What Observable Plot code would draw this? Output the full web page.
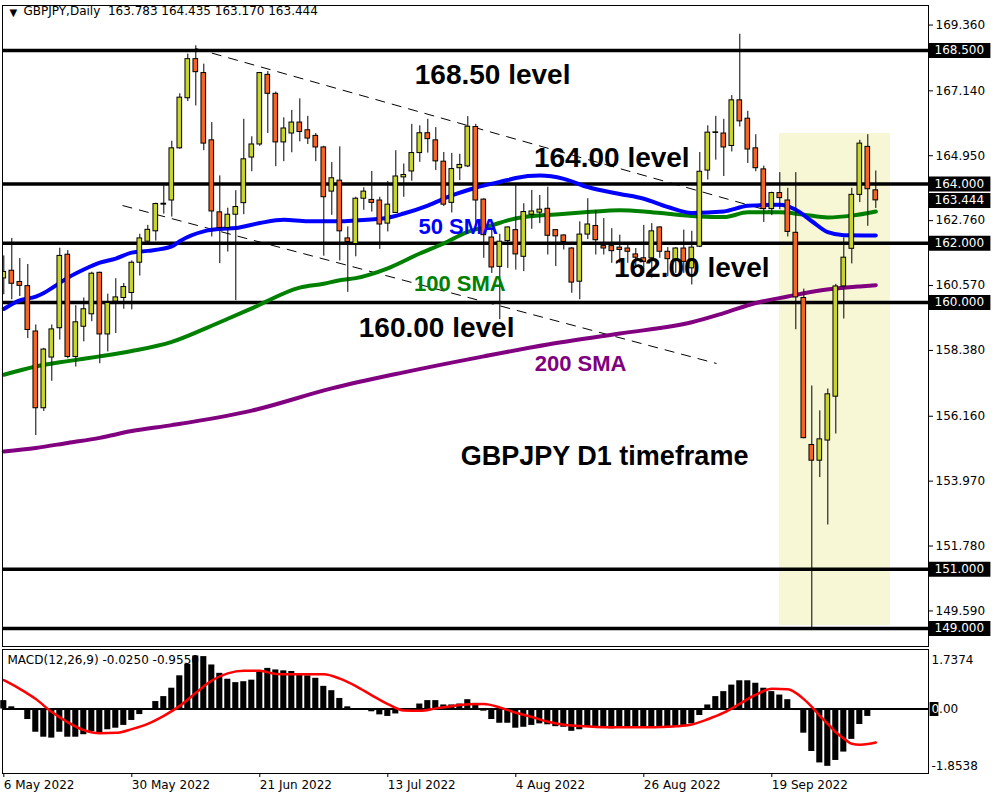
<!DOCTYPE html>
<html><head><meta charset="utf-8">
<script src="https://cdn.jsdelivr.net/npm/d3@7"></script>
<script src="https://cdn.jsdelivr.net/npm/@observablehq/plot@0.6"></script>
<style>
html,body{margin:0;padding:0;background:#fff;}
#wrap{position:relative;width:1000px;height:800px;overflow:hidden;}
#main{position:absolute;left:0;top:0;}
#macd{position:absolute;left:0;top:647px;}
</style></head><body>
<div id="wrap"><div id="main"></div><div id="macd"></div></div>
<script>
// ---- Daily candles, bar 0 = 6 May 2022 ... bar 109 = 6 Oct 2022 ----
const opens = [160.81,161.07,160.69,160.55,159.02,156.43,158.14,159.13,161.61,158.16,
159.18,159.60,161.00,158.92,160.03,160.15,160.32,161.34,162.05,162.40,
163.30,163.44,165.20,166.89,168.21,167.74,165.47,163.04,162.51,162.96,
163.35,164.89,165.33,167.68,167.04,165.40,165.70,166.07,165.81,165.62,
165.23,163.74,164.11,162.16,161.97,163.50,163.46,163.44,162.66,163.02,
164.22,164.42,165.04,165.71,165.47,164.75,163.36,164.53,164.59,165.92,
163.47,162.19,161.20,162.07,162.44,161.54,162.96,163.03,163.16,162.44,
162.26,161.82,160.70,162.29,162.58,161.90,161.90,161.85,161.82,161.62,
161.49,161.49,162.53,161.71,161.43,161.82,161.15,161.88,164.45,165.72,
165.70,165.28,166.82,166.20,165.20,164.49,163.15,163.69,163.44,162.35,
160.15,155.19,154.66,155.34,156.82,160.54,161.81,163.63,165.25,163.783];
const highs = [161.57,162.16,161.48,161.28,159.24,158.45,159.24,161.83,161.75,159.89,
160.15,161.02,161.02,160.28,160.80,160.64,161.40,162.30,162.60,163.35,
163.94,165.44,167.04,168.38,168.66,168.04,166.07,164.27,163.18,163.77,
166.18,165.59,167.76,167.79,167.10,166.23,166.48,166.87,166.28,165.70,
165.27,164.72,165.25,162.55,163.55,163.87,164.42,163.55,164.08,165.12,
164.67,166.01,165.96,166.18,165.90,165.06,165.03,165.00,166.27,166.01,
163.50,162.44,162.30,162.55,164.00,163.33,163.78,163.61,163.89,162.46,
162.28,161.85,162.72,163.50,163.11,162.83,162.49,162.27,161.97,161.82,
162.60,162.66,162.55,161.85,161.85,162.44,162.40,165.06,165.96,166.28,
166.18,166.98,169.05,166.45,165.66,164.60,163.72,164.38,163.85,164.38,
160.45,157.18,156.34,157.08,160.61,162.18,163.85,165.47,165.66,164.435];
const lows = [160.26,160.09,160.20,158.78,155.51,156.32,157.34,158.73,158.10,157.82,
158.67,159.35,157.93,158.33,158.95,159.77,159.75,160.89,161.95,162.07,
162.98,162.88,165.17,166.78,166.63,165.12,162.21,161.31,161.70,160.06,
162.96,164.41,165.27,165.70,164.58,164.75,165.05,165.42,165.33,164.75,
161.56,162.94,161.40,160.34,161.54,163.11,163.05,161.79,162.38,163.00,
163.55,164.09,164.73,165.04,164.45,163.24,163.02,164.11,164.55,162.44,
161.49,160.98,159.42,161.15,161.09,161.04,162.47,162.66,161.60,161.21,
161.77,160.31,160.09,162.12,161.60,161.60,161.32,161.32,161.32,161.15,
160.98,160.82,161.49,160.87,160.98,160.98,160.59,161.85,164.13,164.80,
164.25,165.08,165.92,164.69,164.41,162.70,162.93,163.13,162.21,159.08,
155.40,149.02,154.09,152.49,155.56,159.44,161.30,163.37,162.57,163.170];
const closes = [161.03,160.63,160.56,159.07,156.43,158.41,159.09,161.57,158.16,159.33,
159.77,160.97,158.92,159.98,160.17,160.52,161.34,162.16,162.45,163.32,
163.33,165.20,166.91,168.21,167.77,165.36,163.07,162.51,162.96,163.22,
164.83,165.33,167.74,167.04,165.40,165.87,166.07,165.75,165.53,165.23,
163.55,164.19,162.40,162.04,163.50,163.74,163.36,162.63,163.30,164.25,
164.30,165.04,165.71,165.51,164.76,163.30,164.50,164.64,165.93,163.44,
162.27,161.18,162.05,162.53,161.62,163.05,163.07,163.13,162.25,162.23,
162.04,160.67,162.29,162.63,162.10,161.82,161.73,161.77,161.71,161.51,
161.37,162.40,161.71,161.46,161.82,161.37,161.85,164.41,165.73,165.74,
165.23,166.82,166.11,165.16,164.53,163.15,163.69,163.52,162.38,160.17,
155.42,154.66,155.38,156.90,160.54,161.51,163.63,165.36,163.82,163.444];

// ---- Moving averages (bar index, price) ----
const sma50Bar = [0,2,4,5,7,8,10,12,14,16,18,21,22,25,27,29,32,35,38,42,44,48,50,53,56,59,63,64,67,70,73,77,80,83,86,90,93,97,99,101,103,105,109];
const sma50Val = [159.78,160.07,160.20,160.32,160.66,160.83,161.11,161.34,161.48,161.68,161.74,161.89,162.07,162.40,162.48,162.51,162.68,162.79,162.74,162.74,162.77,162.86,163.00,163.27,163.61,163.87,164.13,164.20,164.28,164.17,163.89,163.66,163.50,163.22,163.02,163.07,163.26,163.30,163.13,162.74,162.37,162.27,162.26];
const sma100Bar = [0,4,8,12,16,21,25,28,31,37,40,42,44,48,52,55,58,61,63,65,69,73,77,80,83,87,90,93,97,100,103,106,109];
const sma100Val = [157.56,157.84,158.02,158.18,158.36,158.67,159.10,159.45,159.80,160.50,160.63,160.75,160.82,161.15,161.65,161.99,162.38,162.60,162.77,162.88,162.97,163.05,163.11,163.07,162.99,162.90,162.88,163.04,163.04,162.96,162.87,162.93,163.07];
const sma200Bar = [0,4,8,12,16,21,31,41,50,60,68,77,86,90,94,98,102,107,109];
const sma200Val = [154.97,155.09,155.26,155.43,155.66,155.86,156.35,157.10,157.64,158.18,158.58,158.95,159.33,159.64,159.98,160.20,160.40,160.54,160.58];

// ---- Horizontal levels, trendlines, highlight box ----
const levels = [168.5, 164, 162, 160, 151, 149];
const levelTags = [168.5, 164, 163.444, 162, 160, 151, 149];
const priceTicks = [169.36, 167.14, 164.95, 162.76, 160.57, 158.38, 156.16, 153.97, 151.78, 149.59];
const trendFromBar = [23.96, 14.84];
const trendFromPrice = [168.57, 163.27];
const trendToBar = [96.84, 89.09];
const trendToPrice = [163.00, 157.94];
const zoneBars = [96.96, 110.84];
const zonePrices = [149.10, 165.70];

// ---- Annotations ----
const annoText = ["168.50 level","164.00 level","162.00 level","160.00 level","50 SMA","100 SMA","200 SMA","GBPJPY D1 timeframe"];
const annoBar = [61.1, 76.0, 86.0, 54.1, 56.8, 57.0, 72.1, 75.1];
const annoPrice = [167.66, 164.86, 161.15, 159.12, 162.56, 160.64, 157.94, 154.80];

// ---- MACD(12,26,9) ----
const macdHist = [0.27,0.07,-0.03,-0.34,-0.75,-0.91,-0.94,-0.75,-0.91,-0.91,
-0.83,-0.73,-0.80,-0.67,-0.62,-0.53,-0.37,-0.18,0.01,0.24,
0.40,0.67,1.07,1.44,1.71,1.69,1.42,1.15,0.96,0.85,
0.88,0.93,1.18,1.31,1.26,1.23,1.21,1.14,1.07,0.99,
0.73,0.59,0.34,0.07,0.01,0.0,-0.09,-0.19,-0.24,-0.16,
-0.07,-0.03,0.16,0.27,0.27,0.13,0.13,0.16,0.30,0.18,
-0.07,-0.34,-0.46,-0.46,-0.62,-0.59,-0.53,-0.48,-0.51,-0.57,
-0.59,-0.72,-0.67,-0.59,-0.62,-0.62,-0.64,-0.62,-0.62,-0.62,
-0.62,-0.57,-0.59,-0.59,-0.59,-0.53,-0.48,-0.21,0.13,0.40,
0.56,0.77,0.91,0.91,0.83,0.67,0.56,0.45,0.30,-0.05,
-0.78,-1.37,-1.74,-1.85,-1.66,-1.39,-0.98,-0.50,-0.24,-0.03];
const signalBar = [0,2,4,6,8,10,12,14,16,18,20,22,24,26,28,30,32,34,36,38,40,42,44,46,48,50,52,54,56,58,60,62,64,66,68,70,72,74,76,78,80,82,84,86,88,90,92,94,96,98,99,100,101,102,103,104,105,106,107,108,109];
const signalVal = [0.93,0.65,0.32,-0.10,-0.43,-0.68,-0.78,-0.77,-0.65,-0.48,-0.22,0.10,0.52,0.92,1.15,1.23,1.23,1.13,1.12,1.12,1.12,0.98,0.74,0.44,0.16,-0.05,-0.06,0.02,0.09,0.15,0.16,0.05,-0.12,-0.26,-0.41,-0.51,-0.55,-0.58,-0.59,-0.59,-0.59,-0.58,-0.56,-0.50,-0.33,-0.12,0.17,0.46,0.65,0.64,0.52,0.32,0.07,-0.22,-0.48,-0.75,-0.95,-1.12,-1.15,-1.13,-1.08];
const macdTicks = [1.7374, 0, -1.8538];

// ---- Time axis ----
const dateTickBar = [0, 16, 32, 48, 64, 80, 96];
const dateTickLabel = ["6 May 2022","30 May 2022","21 Jun 2022","13 Jul 2022","4 Aug 2022","26 Aug 2022","19 Sep 2022"];

const headerText = "GBPJPY,Daily  163.783 164.435 163.170 163.444";
const macdHeaderText = "MACD(12,26,9) -0.0250 -0.9550";

// ================= build =================
const candles = opens.map((o, i) => ({i, o, h: highs[i], l: lows[i], c: closes[i], up: closes[i] >= o}));
const toPts = (b, v) => b.map((x, k) => ({x, y: v[k]}));
const trends = trendFromBar.map((b, k) => ({x1: b, y1: trendFromPrice[k], x2: trendToBar[k], y2: trendToPrice[k]}));
const zone = [{x1: zoneBars[0], x2: zoneBars[1], y1: zonePrices[0], y2: zonePrices[1]}];
const annos = annoText.map((t, k) => ({t, x: annoBar[k], y: annoPrice[k]}));
const levelAnnos = annos.filter(d => d.t.includes("level"));
const smaAnnos = annos.filter(d => d.t.includes("SMA"));
const titleAnnos = annos.filter(d => d.t.includes("GBPJPY"));
const smaColor = {"50 SMA": "#0000ff", "100 SMA": "#008000", "200 SMA": "#800080"};

const xMin = -0.1625, xMax = 115.5875;
const BULL = "#c8d42c", BEAR = "#f26522";
const font = '"DejaVu Sans", Verdana, sans-serif';
const bold = '"Liberation Sans", Arial, sans-serif';

const main = Plot.plot({
  width: 1000, height: 647,
  marginTop: 5, marginBottom: 1, marginLeft: 2, marginRight: 72,
  style: {fontFamily: font, fontSize: "12px", background: "white"},
  x: {domain: [xMin, xMax], axis: null},
  y: {domain: [148.39, 170.02], axis: null},
  marks: [
    Plot.rect(zone, {x1: "x1", x2: "x2", y1: "y1", y2: "y2", fill: "#f7f7d6"}),
    Plot.ruleY(levels, {stroke: "black", strokeWidth: 3.5}),
    Plot.link(trends, {x1: "x1", y1: "y1", x2: "x2", y2: "y2", stroke: "black", strokeWidth: 1, strokeDasharray: "10,7"}),
    Plot.line(toPts(sma200Bar, sma200Val), {x: "x", y: "y", stroke: "#800080", strokeWidth: 4, curve: "monotone-x"}),
    Plot.line(toPts(sma100Bar, sma100Val), {x: "x", y: "y", stroke: "#008000", strokeWidth: 4, curve: "monotone-x"}),
    Plot.line(toPts(sma50Bar, sma50Val), {x: "x", y: "y", stroke: "#0000ff", strokeWidth: 4, curve: "monotone-x"}),
    Plot.ruleX(candles, {x: "i", y1: "l", y2: "h", stroke: "black", strokeWidth: 1, clip: true}),
    Plot.rect(candles, {x1: d => d.i - 0.29, x2: d => d.i + 0.29, y1: "o", y2: "c",
      fill: d => d.up ? BULL : BEAR, stroke: "black", strokeWidth: 1, clip: true}),
    Plot.text(levelAnnos, {x: "x", y: "y", text: "t", fontSize: 28, fontWeight: "bold", fontFamily: bold, fill: "black"}),
    Plot.text(smaAnnos, {x: "x", y: "y", text: "t", fontSize: 22, fontWeight: "bold", fontFamily: bold, fill: d => smaColor[d.t]}),
    Plot.text(titleAnnos, {x: "x", y: "y", text: "t", fontSize: 27, fontWeight: "bold", fontFamily: bold, fill: "black"}),
    Plot.text(["▼"], {frameAnchor: "top-left", dx: 7, dy: 3, lineAnchor: "top", textAnchor: "start", fontSize: 10}),
    Plot.text([headerText], {frameAnchor: "top-left", dx: 21, dy: 1, lineAnchor: "top", textAnchor: "start", fontSize: 12}),
    Plot.frame({stroke: "black"}),
    Plot.axisY({anchor: "right", ticks: priceTicks, tickFormat: d => d.toFixed(3), tickSize: 4, tickPadding: 3, fontSize: 12}),
    Plot.ruleY(levelTags, {x1: () => xMax, x2: () => xMax + 7.8, stroke: "black", strokeWidth: 15}),
    Plot.text(levelTags, {x: () => xMax, y: d => d, text: d => d.toFixed(3), dx: 6, textAnchor: "start", fill: "white", fontSize: 12})
  ]
});
document.getElementById("main").appendChild(main);

const hist = macdHist.map((v, i) => ({i, v}));
const macd = Plot.plot({
  width: 1000, height: 153,
  marginTop: 2, marginBottom: 27, marginLeft: 2, marginRight: 72,
  style: {fontFamily: font, fontSize: "12px", background: "white"},
  x: {domain: [xMin, xMax], axis: null},
  y: {domain: [-2.081, 1.919], axis: null},
  marks: [
    Plot.text([macdHeaderText], {frameAnchor: "top-left", dx: 5, dy: 6, lineAnchor: "top", textAnchor: "start", fontSize: 12}),
    Plot.rect(hist, {x1: d => d.i - 0.38, x2: d => d.i + 0.38, y1: () => 0, y2: "v", fill: "black"}),
    Plot.ruleY([0], {stroke: "black", strokeWidth: 2}),
    Plot.line(toPts(signalBar, signalVal), {x: "x", y: "y", stroke: "#ff0000", strokeWidth: 2.5, curve: "monotone-x"}),
    Plot.frame({stroke: "black"}),
    Plot.axisY({anchor: "right", ticks: macdTicks.slice(2), tickFormat: d => d.toFixed(4), tickSize: 0, tickPadding: 3, fontSize: 12}),
    Plot.axisY({anchor: "right", ticks: macdTicks.slice(0, 1), tickFormat: d => d.toFixed(4), tickSize: 0, tickPadding: 3, dy: 5, fontSize: 12}),
    Plot.ruleY([macdTicks[1]], {x1: () => xMax + 0.2, x2: () => xMax + 1.3, stroke: "black", strokeWidth: 14}),
    Plot.text([macdTicks[1]], {x: () => xMax, y: d => d, text: () => "0", dx: 3, textAnchor: "start", fill: "#ffffd8", fontSize: 12}),
    Plot.text([macdTicks[1]], {x: () => xMax, y: d => d, text: () => ".00", dx: 10.6, textAnchor: "start", fill: "black", fontSize: 12}),
    Plot.axisX({ticks: dateTickBar, tickFormat: (d) => dateTickLabel[dateTickBar.indexOf(d)], tickSize: 4, tickPadding: 3, textAnchor: "start", fontSize: 12, label: null})
  ]
});
document.getElementById("macd").appendChild(macd);
</script>
</body></html>
